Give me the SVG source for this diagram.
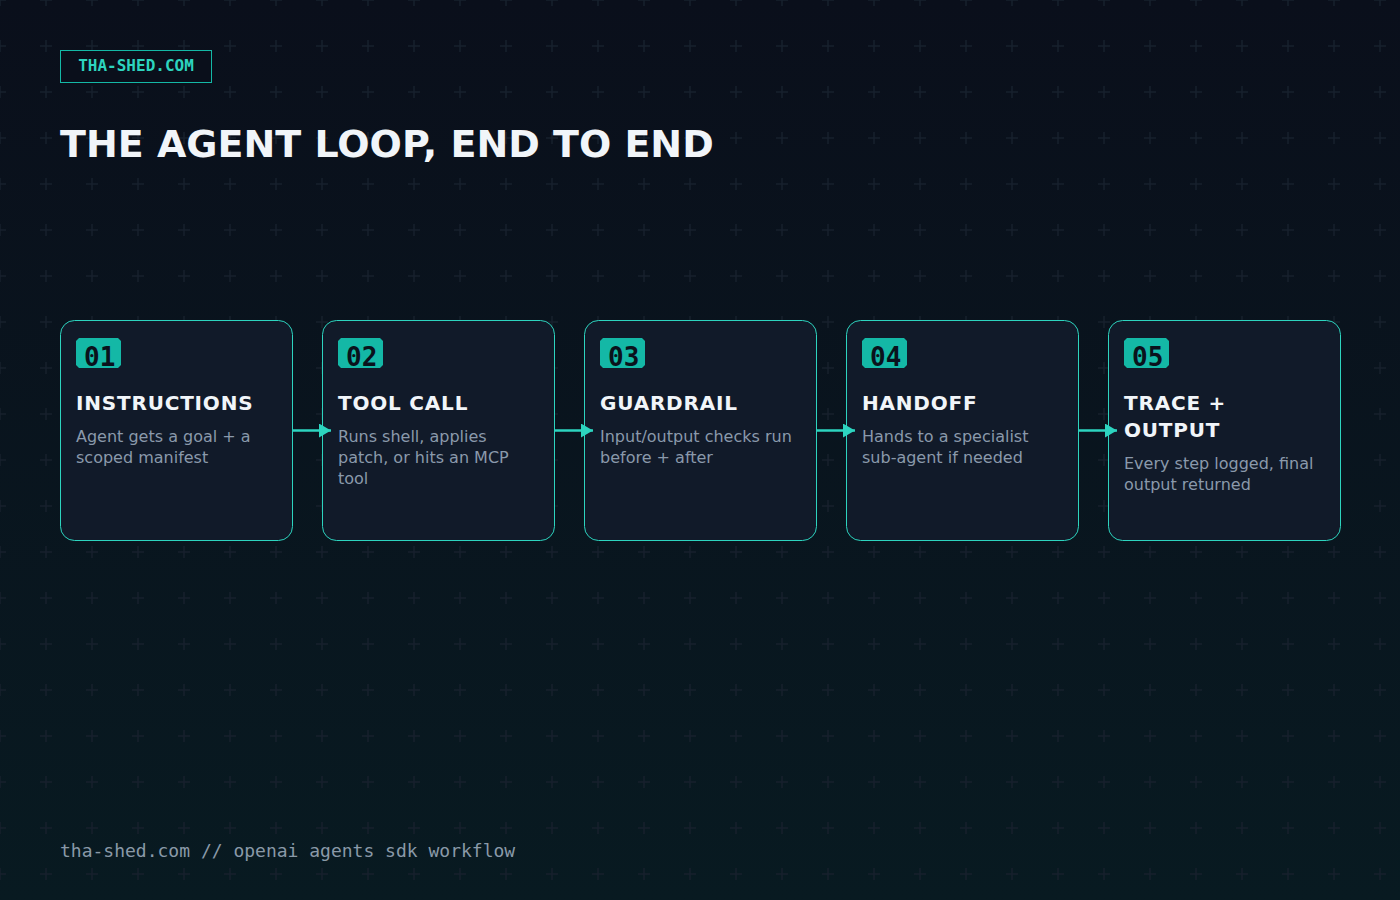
<svg xmlns="http://www.w3.org/2000/svg" width="1400" height="900" viewBox="0 0 1400 900">
  <defs>
    <linearGradient id="bg" x1="0" y1="0" x2="0" y2="1">
      <stop offset="0" stop-color="#0a0f1b"/>
      <stop offset="1" stop-color="#081a21"/>
    </linearGradient>
    <pattern id="grid" x="23" y="23" width="46" height="46" patternUnits="userSpaceOnUse">
      <path d="M17 23 H29 M23 17 V29" stroke="#16202c" stroke-width="1.5" fill="none"/>
    </pattern>
    <marker id="arr" viewBox="0 0 12 14" refX="12" refY="7" markerWidth="12" markerHeight="14" markerUnits="userSpaceOnUse" orient="auto">
      <path d="M0 0 L12 7 L0 14 Z" fill="#2dd4bf"/>
    </marker>
  </defs>
  <style>
    .card { fill: #111a29; stroke: #2dd4bf; stroke-width: 1; }
    .badge { fill: #14b8a6; }
    .num { font-family: "DejaVu Sans Mono", "Liberation Mono", monospace; font-weight: bold; font-size: 26px; fill: #0a121c; }
    .title { font-family: "DejaVu Sans", "Liberation Sans", sans-serif; font-weight: bold; font-size: 20px; fill: #f1f5f9; letter-spacing: 0.8px; }
    .desc { font-family: "DejaVu Sans", "Liberation Sans", sans-serif; font-size: 16px; fill: #8a99ab; }
    .conn { stroke: #2dd4bf; stroke-width: 2.5; fill: none; }
  </style>
  <rect width="1400" height="900" fill="url(#bg)"/>
  <rect width="1400" height="900" fill="url(#grid)"/>

  <g id="header">
    <rect x="60.5" y="50.5" width="151" height="32" fill="#0a0f1b" stroke="#14b8a6" stroke-width="1"/>
    <text x="136" y="71" text-anchor="middle" font-family="DejaVu Sans Mono, Liberation Mono, monospace" font-weight="bold" font-size="16" fill="#2dd4bf">THA-SHED.COM</text>
  </g>
  <text id="heading" x="60" y="157" font-family="DejaVu Sans, Liberation Sans, sans-serif" font-weight="bold" font-size="38" fill="#f1f5f9">THE AGENT LOOP, END TO END</text>

  <g id="step1">
    <rect class="card" x="60.5" y="320.5" width="232" height="220" rx="14"/>
    <path class="badge" d="M79 338 H118 L121 341 V365 L118 368 H79 L76 365 V341 Z"/>
    <text class="num" x="84" y="366">01</text>
    <text class="title" x="76" y="410">INSTRUCTIONS</text>
    <text class="desc" x="76" y="442">Agent gets a goal + a</text>
    <text class="desc" x="76" y="463">scoped manifest</text>
  </g>
  <g id="step2">
    <rect class="card" x="322.5" y="320.5" width="232" height="220" rx="14"/>
    <path class="badge" d="M341 338 H380 L383 341 V365 L380 368 H341 L338 365 V341 Z"/>
    <text class="num" x="346" y="366">02</text>
    <text class="title" x="338" y="410">TOOL CALL</text>
    <text class="desc" x="338" y="442">Runs shell, applies</text>
    <text class="desc" x="338" y="463">patch, or hits an MCP</text>
    <text class="desc" x="338" y="484">tool</text>
  </g>
  <g id="step3">
    <rect class="card" x="584.5" y="320.5" width="232" height="220" rx="14"/>
    <path class="badge" d="M603 338 H642 L645 341 V365 L642 368 H603 L600 365 V341 Z"/>
    <text class="num" x="608" y="366">03</text>
    <text class="title" x="600" y="410">GUARDRAIL</text>
    <text class="desc" x="600" y="442">Input/output checks run</text>
    <text class="desc" x="600" y="463">before + after</text>
  </g>
  <g id="step4">
    <rect class="card" x="846.5" y="320.5" width="232" height="220" rx="14"/>
    <path class="badge" d="M865 338 H904 L907 341 V365 L904 368 H865 L862 365 V341 Z"/>
    <text class="num" x="870" y="366">04</text>
    <text class="title" x="862" y="410">HANDOFF</text>
    <text class="desc" x="862" y="442">Hands to a specialist</text>
    <text class="desc" x="862" y="463">sub-agent if needed</text>
  </g>
  <g id="step5">
    <rect class="card" x="1108.5" y="320.5" width="232" height="220" rx="14"/>
    <path class="badge" d="M1127 338 H1166 L1169 341 V365 L1166 368 H1127 L1124 365 V341 Z"/>
    <text class="num" x="1132" y="366">05</text>
    <text class="title" x="1124" y="410">TRACE +</text>
    <text class="title" x="1124" y="437">OUTPUT</text>
    <text class="desc" x="1124" y="469">Every step logged, final</text>
    <text class="desc" x="1124" y="490">output returned</text>
  </g>

  <g id="connectors">
    <line class="conn" x1="292" y1="430.5" x2="331" y2="430.5" marker-end="url(#arr)"/>
    <line class="conn" x1="554" y1="430.5" x2="593" y2="430.5" marker-end="url(#arr)"/>
    <line class="conn" x1="816" y1="430.5" x2="855" y2="430.5" marker-end="url(#arr)"/>
    <line class="conn" x1="1078" y1="430.5" x2="1117" y2="430.5" marker-end="url(#arr)"/>
  </g>

  <text id="footer" x="60" y="857" font-family="DejaVu Sans Mono, Liberation Mono, monospace" font-size="18" fill="#8a99a8">tha-shed.com // openai agents sdk workflow</text>
</svg>
